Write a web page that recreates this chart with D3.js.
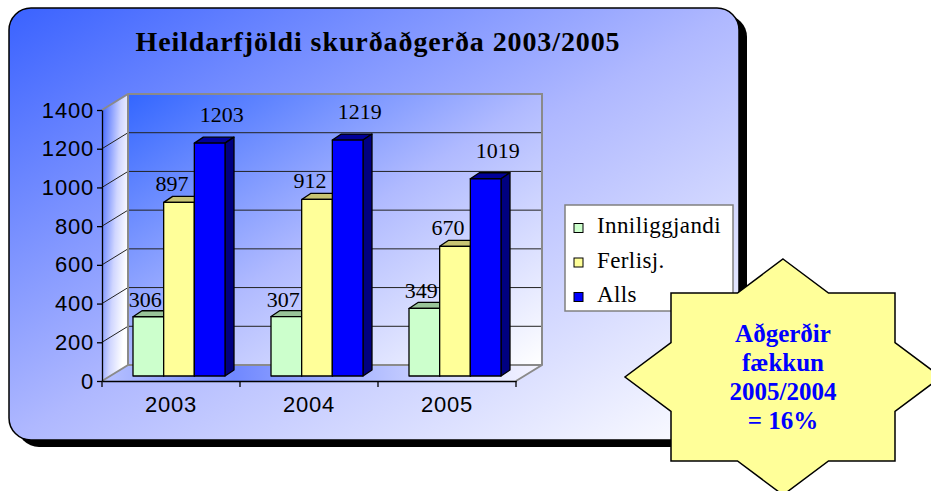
<!DOCTYPE html>
<html>
<head>
<meta charset="utf-8">
<script src="https://cdn.jsdelivr.net/npm/d3@7"></script>
<style>
  body { margin: 0; background: #fff; }
  svg { display: block; }
</style>
</head>
<body>
<div id="chart"></div>
<script>
// chart values
var categories = ["2003", "2004", "2005"];
var seriesNames = ["Inniliggjandi", "Ferlisj.", "Alls"];
var inniliggjandi = [306, 307, 349];
var ferlisj = [897, 912, 670];
var alls = [1203, 1219, 1019];
var yTicks = [0, 200, 400, 600, 800, 1000, 1200, 1400];
var titleText = "Heildarfjöldi skurðaðgerða 2003/2005";
var starLines = ["Aðgerðir", "fækkun", "2005/2004", "= 16%"];

var width = 931, height = 491;
var serif = "'Liberation Serif', 'Times New Roman', serif",
    sans = "'Liberation Sans', Arial, sans-serif";

// face colours per series: front, top, side
var faces = [
  { front: "#ccffcc", top: "#99c499", side: "#6f9a6f" },
  { front: "#ffff99", top: "#c8c473", side: "#99955a" },
  { front: "#0000ff", top: "#000099", side: "#000080" }
];
// where the value labels sit relative to the bar top (x, y)
var labelShift = [[-3, -10], [-7, -11], [12, -21]];

var svg = d3.select("#chart").append("svg")
    .attr("width", width)
    .attr("height", height);

var defs = svg.append("defs");
var grad = function(id, x2, y2, stops) {
  var g = defs.append("linearGradient").attr("id", id)
      .attr("x1", 0).attr("y1", 0).attr("x2", x2).attr("y2", y2);
  stops.forEach(function(s) {
    g.append("stop").attr("offset", s[0]).attr("stop-color", s[1]);
  });
};
grad("panelGrad", 1, 1, [[0, "#3a62ff"], [0.5, "#afb8ff"], [1, "#ffffff"]]);
grad("wallGrad", 1, 1, [[0, "#3366ff"], [0.5, "#b0baff"], [1, "#ffffff"]]);
grad("sideGrad", 1, 0.5, [[0, "#3c62ff"], [0.6, "#d0d6ff"], [1, "#ffffff"]]);
grad("floorGrad", 1, 0, [[0, "#b8c2ff"], [0.3, "#7088ff"], [0.8, "#d8dcff"], [1, "#f4f4ff"]]);

// background panel with shadow
svg.append("rect")
    .attr("x", 17).attr("y", 15).attr("width", 730).attr("height", 432)
    .attr("rx", 22).attr("fill", "#000");
svg.append("rect")
    .attr("x", 9).attr("y", 8).attr("width", 730).attr("height", 432)
    .attr("rx", 22).attr("fill", "url(#panelGrad)")
    .attr("stroke", "#000").attr("stroke-width", 1.5);

svg.append("text")
    .attr("x", 378).attr("y", 51)
    .attr("text-anchor", "middle")
    .style("font-family", serif).style("font-weight", "bold")
    .style("font-size", "28px").style("letter-spacing", "0.9px")
    .text(titleText);

// scales
var x = d3.scaleBand().domain(categories).range([102, 516]);
var y = d3.scaleLinear().domain([0, 1400]).range([381, 110]);
var series = d3.scaleBand().domain(seriesNames).range([0, 92]);
var depth = [26, -16];      // wall depth
var barShift = [8, -5];     // bars stand a bit behind the front edge
var barDepth = [9, -6];
var groupPad = (x.bandwidth() - 92) / 2;

var x0 = x.range()[0], x1 = x.range()[1];
var pts = function(a) { return a.map(function(p) { return p.join(","); }).join(" "); };

// walls
svg.append("polygon")
    .attr("points", pts([[x0, y(0)], [x0, y(1400)], [x0 + depth[0], y(1400) + depth[1]], [x0 + depth[0], y(0) + depth[1]]]))
    .attr("fill", "url(#sideGrad)");
svg.append("polygon")
    .attr("points", pts([[x0, y(0)], [x1, y(0)], [x1 + depth[0], y(0) + depth[1]], [x0 + depth[0], y(0) + depth[1]]]))
    .attr("fill", "url(#floorGrad)");
svg.append("rect")
    .attr("x", x0 + depth[0]).attr("y", y(1400) + depth[1])
    .attr("width", x1 - x0).attr("height", y(0) - y(1400))
    .attr("fill", "url(#wallGrad)");

// gridlines on back and side wall
var grid = yTicks.filter(function(d) { return d > 0 && d < 1400; });
svg.append("g").selectAll("path").data(grid).enter().append("path")
    .attr("d", function(d) {
      return "M" + x0 + "," + y(d) + "L" + (x0 + depth[0]) + "," + (y(d) + depth[1]) +
             "H" + (x1 + depth[0]);
    })
    .attr("fill", "none").attr("stroke", "#222").attr("stroke-width", 1);

// wall edges
svg.append("path")
    .attr("d", "M" + x0 + "," + y(1400) + "L" + (x0 + depth[0]) + "," + (y(1400) + depth[1]) +
               "H" + (x1 + depth[0]) + "V" + (y(0) + depth[1]) + "L" + x1 + "," + y(0) +
               "M" + x0 + "," + y(0) + "L" + (x0 + depth[0]) + "," + (y(0) + depth[1]) +
               "V" + (y(1400) + depth[1]) +
               "M" + (x0 + depth[0]) + "," + (y(0) + depth[1]) + "H" + (x1 + depth[0]))
    .attr("fill", "none").attr("stroke", "#8a8a8a").attr("stroke-width", 2);

// bars
var values = [inniliggjandi, ferlisj, alls];
var bars = [];
categories.forEach(function(c, ci) {
  values.forEach(function(vals, si) {
    bars.push({ cat: c, si: si, value: vals[ci] });
  });
});

var barG = svg.append("g");
bars.forEach(function(d) {
  var bx = x(d.cat) + groupPad + barShift[0] + series(seriesNames[d.si]);
  var bw = series.bandwidth();
  var by0 = y(0) + barShift[1];
  var by = y(d.value) + barShift[1];
  var dx = barDepth[0], dy = barDepth[1];
  var f = faces[d.si];
  var g = barG.append("g")
      .attr("stroke", "#000").attr("stroke-width", 1.3).attr("stroke-linejoin", "round");
  g.append("polygon")
      .attr("points", pts([[bx, by], [bx + dx, by + dy], [bx + bw + dx, by + dy], [bx + bw, by]]))
      .attr("fill", f.top);
  g.append("polygon")
      .attr("points", pts([[bx + bw, by], [bx + bw + dx, by + dy], [bx + bw + dx, by0 + dy], [bx + bw, by0]]))
      .attr("fill", f.side);
  g.append("rect")
      .attr("x", bx).attr("y", by).attr("width", bw).attr("height", by0 - by)
      .attr("fill", f.front);
});

// value labels
svg.append("g").selectAll("text").data(bars).enter().append("text")
    .attr("x", function(d) {
      return x(d.cat) + groupPad + barShift[0] + series(seriesNames[d.si]) +
             series.bandwidth() / 2 + labelShift[d.si][0];
    })
    .attr("y", function(d) { return y(d.value) + barShift[1] + labelShift[d.si][1]; })
    .attr("text-anchor", "middle")
    .style("font-family", serif).style("font-size", "22px")
    .text(function(d) { return d.value; });

// axes
var yAxis = svg.append("g")
    .attr("transform", "translate(" + x0 + ",0)")
    .call(d3.axisLeft(y).tickValues(yTicks).tickFormat(d3.format("d"))
      .tickSize(5).tickSizeOuter(0).tickPadding(3));
yAxis.selectAll("text")
    .style("font-family", sans).style("font-size", "22px").style("letter-spacing", "0.8px")
    .attr("fill", "#000");
yAxis.selectAll("line, path").attr("stroke", "#000").attr("stroke-width", 1.3);

var xAxis = svg.append("g")
    .attr("transform", "translate(0," + y(0) + ")")
    .call(d3.axisBottom(x).tickSize(0).tickSizeOuter(0).tickPadding(15));
xAxis.selectAll("text")
    .style("font-family", sans).style("font-size", "22px").style("letter-spacing", "0.8px")
    .attr("fill", "#000");
xAxis.select("path").attr("stroke", "#000").attr("stroke-width", 1.3);
xAxis.selectAll("line.edge").data(d3.range(categories.length + 1)).enter().append("line")
    .attr("class", "edge")
    .attr("x1", function(i) { return x0 + i * x.step(); })
    .attr("x2", function(i) { return x0 + i * x.step(); })
    .attr("y1", 0).attr("y2", 6)
    .attr("stroke", "#000").attr("stroke-width", 1.3);

// legend
var legend = svg.append("g").attr("transform", "translate(565,205)");
legend.append("rect")
    .attr("width", 168).attr("height", 106)
    .attr("fill", "#fff").attr("stroke", "#808080").attr("stroke-width", 1.5);
var item = legend.selectAll("g.item").data(seriesNames).enter().append("g")
    .attr("class", "item")
    .attr("transform", function(d, i) { return "translate(0," + (23 + i * 34.5) + ")"; });
item.append("rect")
    .attr("x", 9).attr("y", -4.5).attr("width", 9).attr("height", 9)
    .attr("fill", function(d, i) { return faces[i].front; })
    .attr("stroke", "#000").attr("stroke-width", 1);
item.append("text")
    .attr("x", 32).attr("y", 5)
    .style("font-family", serif).style("font-size", "23px").style("letter-spacing", "0.4px")
    .text(function(d) { return d; });

// 8 point star: union of a rectangle and a diamond
var cx = 783, cy = 377, rx = 158, ry = 118, hx = 112, hy = 84;
var ix = rx * (1 - hy / ry), iy = ry * (1 - hx / rx);
var star = [
  [cx, cy - ry], [cx + ix, cy - hy], [cx + hx, cy - hy], [cx + hx, cy - iy],
  [cx + rx, cy], [cx + hx, cy + iy], [cx + hx, cy + hy], [cx + ix, cy + hy],
  [cx, cy + ry], [cx - ix, cy + hy], [cx - hx, cy + hy], [cx - hx, cy + iy],
  [cx - rx, cy], [cx - hx, cy - iy], [cx - hx, cy - hy], [cx - ix, cy - hy]
];
svg.append("polygon")
    .attr("points", pts(star))
    .attr("fill", "#ffff99").attr("stroke", "#000").attr("stroke-width", 1.5);

svg.append("g").selectAll("text").data(starLines).enter().append("text")
    .attr("x", cx).attr("y", function(d, i) { return 342 + i * 29; })
    .attr("text-anchor", "middle")
    .style("font-family", serif).style("font-weight", "bold").style("font-size", "25px")
    .attr("fill", "#0000ff")
    .text(function(d) { return d; });
</script>
</body>
</html>
